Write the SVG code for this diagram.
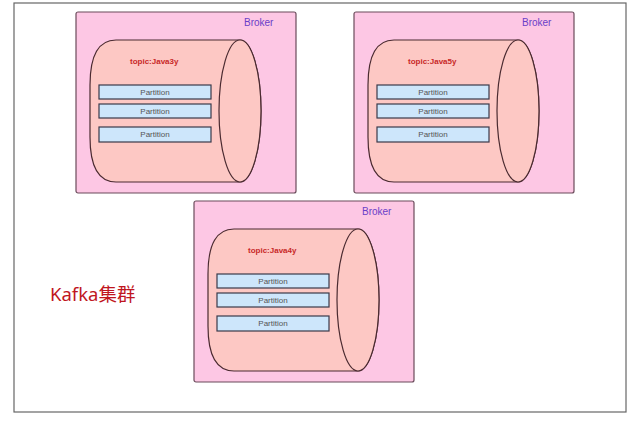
<svg xmlns="http://www.w3.org/2000/svg" width="640" height="430" viewBox="0 0 640 430">
<style>
.frame{fill:#fff;stroke:#666;stroke-width:1.2}
.broker{fill:#fdc7e4;stroke:#6b4b5b;stroke-width:1.2}
.cyl{fill:#fdc8c4;stroke:#4a2a30;stroke-width:1.2}
.part{fill:#cde6fb;stroke:#3a3a4a;stroke-width:1.2}
.pt{font-family:"Liberation Sans",sans-serif;font-size:8px;fill:#555;text-anchor:middle}
.bt{font-family:"Liberation Sans",sans-serif;font-size:10px;fill:#6a3fc8}
.tt{font-family:"Liberation Sans",sans-serif;font-size:8px;font-weight:bold;fill:#c82828}
</style>
<defs>
<g id="b">
<rect class="broker" x="0" y="0" width="220" height="181" rx="2"/>
<text class="bt" x="168" y="14">Broker</text>
<path class="cyl" d="M40 28 L164 28 A21 71 0 0 1 164 170 L40 170 Q14 170 14 125 L14 73 Q14 28 40 28 Z"/>
<ellipse class="cyl" cx="164" cy="99" rx="21" ry="71"/>
<rect class="part" x="23" y="73" width="112" height="14"/>
<text class="pt" x="79" y="83">Partition</text>
<rect class="part" x="23" y="92" width="112" height="14"/>
<text class="pt" x="79" y="102">Partition</text>
<rect class="part" x="23" y="115" width="112" height="15"/>
<text class="pt" x="79" y="125">Partition</text>
</g>
</defs>
<rect width="640" height="430" fill="#fff"/>
<rect class="frame" x="14" y="3" width="612" height="409"/>
<g id="broker1"><use href="#b" x="76" y="12"/><text class="tt" x="130" y="64">topic:Java3y</text></g>
<g id="broker2"><use href="#b" x="354" y="12"/><text class="tt" x="408" y="64">topic:Java5y</text></g>
<g id="broker3"><use href="#b" x="194" y="201"/><text class="tt" x="248" y="253">topic:Java4y</text></g>
<g id="connectors"/>
<text x="50" y="301" font-family="'Noto Sans','Noto Sans CJK SC',sans-serif" font-size="18.5" fill="#c0161e">Kafka集群</text>
</svg>
